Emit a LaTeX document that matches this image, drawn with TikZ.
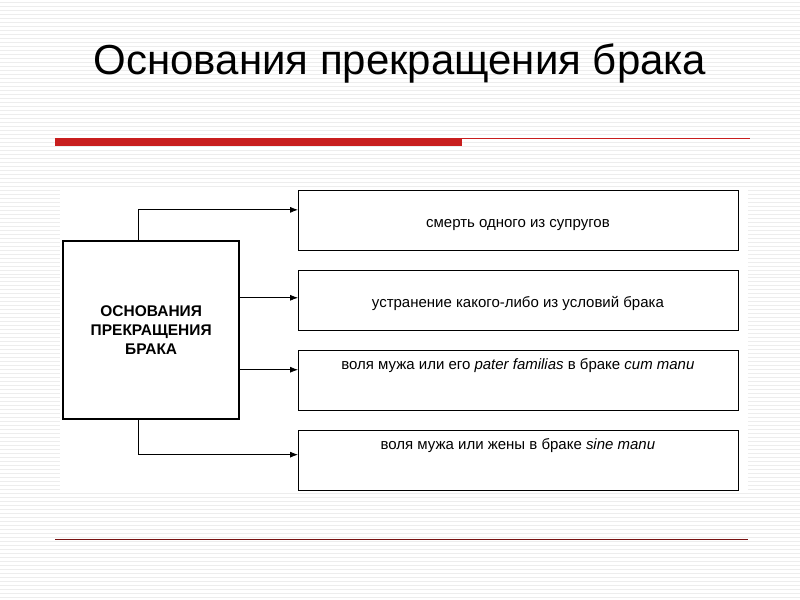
\documentclass[tikz,border=0pt]{standalone}
\usepackage{fontspec}
\setmainfont{Liberation Sans}
\usetikzlibrary{arrows.meta}
\definecolor{bar}{RGB}{200,30,30}
\begin{document}
\begin{tikzpicture}[x=1pt,y=-1pt,
  item/.style={draw,line width=1.2pt,minimum width=440pt,minimum height=60pt,anchor=north west,inner sep=0pt},
  txt/.style={font=\fontsize{15}{17}\selectfont},
  conn/.style={line width=0.8pt,-{Latex[length=8pt,width=6pt]}}]
\fill[white] (0,0) rectangle (800,600);
\foreach \y in {2,6,...,598} \draw[black!7,line width=0.6pt] (0,\y) -- (800,\y);
\useasboundingbox (0,0) rectangle (800,600);
\node (title) at (400,64) {\fontsize{42}{46}\selectfont Основания прекращения брака};
\fill[bar] (55,138) rectangle (462,146);
\draw[bar,line width=0.8pt] (462,138) -- (750,138);
\draw[bar!60!black,line width=0.6pt] (55,540) -- (748,540);
\fill[white] (60,188) rectangle (748,492);
\node[draw,line width=2pt,minimum width=176pt,minimum height=178pt,anchor=north west,inner sep=0pt,align=center,font=\bfseries\fontsize{15.5}{19}\selectfont] (main) at (62,240) {ОСНОВАНИЯ\\ПРЕКРАЩЕНИЯ\\БРАКА};
\node[item] (b1) at (298,190) {};
\node[item] (b2) at (298,270) {};
\node[item] (b3) at (298,350) {};
\node[item] (b4) at (298,430) {};
\node[txt] (t1) at (518,225) {смерть одного из супругов};
\node[txt] (t2) at (518,304) {устранение какого-либо из условий брака};
\node[txt] (t3) at (518,366) {воля мужа или его \textit{pater familias} в браке \textit{cum manu}};
\node[txt] (t4) at (518,446) {воля мужа или жены в браке \textit{sine manu}};
\coordinate (c1) at (138,210);
\coordinate (c4) at (138,455);
\draw[conn] (main.north -| c1) -- (c1) -- (c1 -| b1.west);
\draw[conn] (main.east |- 0,298) -- (b2.west |- 0,298);
\draw[conn] (main.east |- 0,370) -- (b3.west |- 0,370);
\draw[conn] (main.south -| c4) -- (c4) -- (c4 -| b4.west);
\end{tikzpicture}
\end{document}
